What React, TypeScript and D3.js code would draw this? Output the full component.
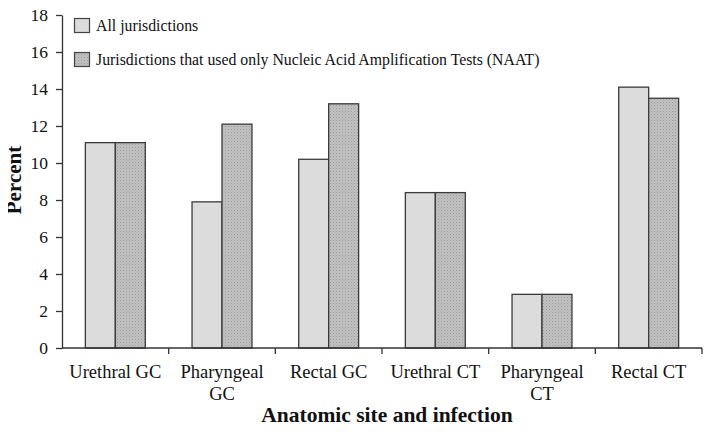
import * as d3 from 'd3';
import { useEffect, useRef } from 'react';

const categories = ['Urethral GC', 'Pharyngeal GC', 'Rectal GC', 'Urethral CT', 'Pharyngeal CT', 'Rectal CT'];
const categoryLines = [['Urethral GC'], ['Pharyngeal', 'GC'], ['Rectal GC'], ['Urethral CT'], ['Pharyngeal', 'CT'], ['Rectal CT']];
const seriesNames = ['All jurisdictions', 'Jurisdictions that used only Nucleic Acid Amplification Tests (NAAT)'];
const allValues = [11.1, 7.9, 10.2, 8.4, 2.9, 14.1];
const naatValues = [11.1, 12.1, 13.2, 8.4, 2.9, 13.5];
const yTicks = [0, 2, 4, 6, 8, 10, 12, 14, 16, 18];

const font = '"Liberation Serif", "Times New Roman", serif';

const drawChart = (container: HTMLElement) => {
  const width = 714;
  const height = 432;
  const left = 62;
  const right = 702;
  const top = 15;
  const bottom = 348;

  const x0 = d3.scaleBand<string>().domain(categories).range([left, right]).padding(0);
  const x1 = d3.scaleBand<number>().domain([0, 1]).range([0, x0.bandwidth()]).paddingInner(0).paddingOuter(0.78);
  const y = d3.scaleLinear().domain([0, 18]).range([bottom, top]);

  const svg = d3.select(container).append('svg')
    .attr('width', width)
    .attr('height', height)
    .style('display', 'block')
    .style('font-family', font);

  const defs = svg.append('defs');
  const pat = defs.append('pattern')
    .attr('id', 'stipple')
    .attr('patternUnits', 'userSpaceOnUse')
    .attr('width', 3)
    .attr('height', 3);
  pat.append('rect').attr('width', 3).attr('height', 3).attr('fill', '#c2c2c2');
  pat.append('rect').attr('x', 0).attr('y', 0).attr('width', 1).attr('height', 1).attr('fill', '#999');
  pat.append('rect').attr('x', 1.5).attr('y', 1.5).attr('width', 1).attr('height', 1).attr('fill', '#a8a8a8');

  const fills = ['#dcdcdc', 'url(#stipple)'];
  const series = [allValues, naatValues];

  // bars
  series.forEach((vals, si) => {
    svg.append('g').selectAll('rect')
      .data(categories)
      .join('rect')
      .attr('x', (c) => (x0(c) as number) + (x1(si) as number))
      .attr('y', (c, i) => y(vals[i]))
      .attr('width', x1.bandwidth())
      .attr('height', (c, i) => bottom - y(vals[i]))
      .attr('fill', fills[si])
      .attr('stroke', '#3a3a3a')
      .attr('stroke-width', 1.3);
  });

  // y axis
  const yAxis = d3.axisLeft(y).tickValues(yTicks).tickSize(6).tickSizeOuter(0).tickPadding(8);
  const gy = svg.append('g').attr('transform', `translate(${left},0)`).call(yAxis);
  gy.select('.domain').attr('stroke', '#333').attr('stroke-width', 1.3);
  gy.selectAll('.tick line').attr('stroke', '#333').attr('stroke-width', 1.3);
  gy.selectAll('.tick text').attr('font-size', 17.5).attr('font-family', font).attr('fill', '#111');

  // x axis
  svg.append('line')
    .attr('x1', left).attr('x2', right)
    .attr('y1', bottom).attr('y2', bottom)
    .attr('stroke', '#333').attr('stroke-width', 1.3);
  const bounds = categories.map((c) => (x0(c) as number) + x0.bandwidth());
  svg.append('g').selectAll('line')
    .data(bounds)
    .join('line')
    .attr('x1', (d) => d).attr('x2', (d) => d)
    .attr('y1', bottom).attr('y2', bottom + 6)
    .attr('stroke', '#333').attr('stroke-width', 1.3);

  const labels = svg.append('g')
    .selectAll('text')
    .data(categories)
    .join('text')
    .attr('x', (c) => (x0(c) as number) + x0.bandwidth() / 2)
    .attr('y', 378)
    .attr('text-anchor', 'middle')
    .attr('font-size', 18.5)
    .attr('fill', '#111');
  labels.each(function (c, i) {
    const t = d3.select(this);
    categoryLines[i].forEach((line, li) => {
      t.append('tspan')
        .attr('x', (x0(c) as number) + x0.bandwidth() / 2)
        .attr('dy', li === 0 ? 0 : 22)
        .text(line);
    });
  });

  // axis titles
  svg.append('text')
    .attr('x', 387)
    .attr('y', 422)
    .attr('text-anchor', 'middle')
    .attr('font-size', 21.5)
    .attr('font-weight', 'bold')
    .attr('fill', '#111')
    .text('Anatomic site and infection');

  svg.append('text')
    .attr('transform', `translate(21,180) rotate(-90)`)
    .attr('text-anchor', 'middle')
    .attr('font-size', 21)
    .attr('font-weight', 'bold')
    .attr('fill', '#111')
    .text('Percent');

  // legend
  const legend = svg.append('g');
  seriesNames.forEach((name, i) => {
    const ly = 18.5 + i * 34;
    legend.append('rect')
      .attr('x', 74.5).attr('y', ly)
      .attr('width', 15).attr('height', 14)
      .attr('fill', fills[i])
      .attr('stroke', '#444').attr('stroke-width', 1.2);
    legend.append('text')
      .attr('x', 96).attr('y', ly + 12.5)
      .attr('font-size', 15.8)
      .attr('fill', '#111')
      .text(name);
  });

  return svg.node();
};

export default function App() {
  const domRef = useRef<HTMLDivElement>(null);
  useEffect(() => {
    if (domRef.current) {
      drawChart(domRef.current);
    }
    return () => {
      d3.select(domRef.current).selectAll('svg').remove();
    };
  }, [domRef]);
  return <div ref={domRef} style={{ margin: -8 }}></div>;
}
